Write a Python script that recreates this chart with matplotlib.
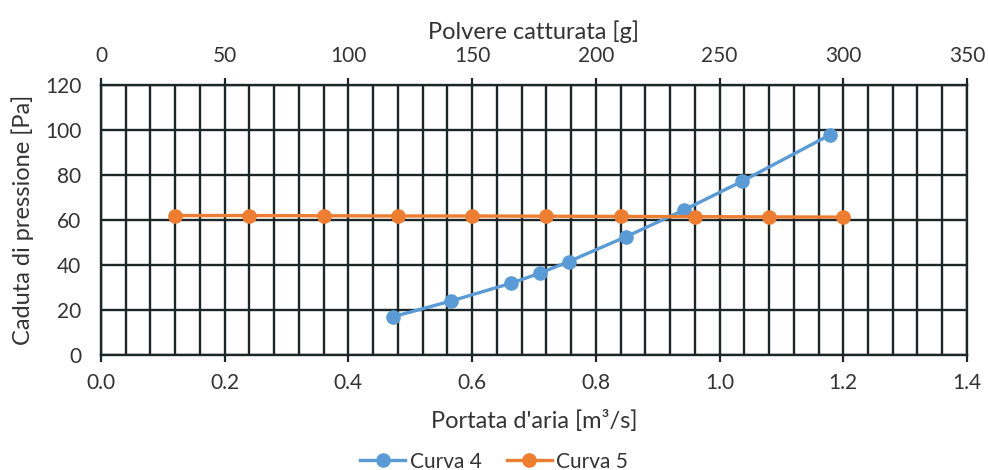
import matplotlib
matplotlib.use('Agg')
import matplotlib.pyplot as plt
import numpy as np
from matplotlib.ticker import MultipleLocator, FormatStrFormatter

# Curva 4: caduta di pressione vs portata d'aria (asse in basso)
portata_c4 = [0.472, 0.566, 0.663, 0.709, 0.756, 0.849, 0.942, 1.037, 1.178]
pressione_c4 = [17.0, 24.0, 31.9, 36.3, 41.5, 52.6, 64.4, 77.3, 97.8]

# Curva 5: caduta di pressione vs polvere catturata (asse in alto)
polvere_c5 = [30, 60, 90, 120, 150, 180, 210, 240, 270, 300]
pressione_c5 = [62.0, 62.0, 61.9, 61.8, 61.8, 61.7, 61.6, 61.5, 61.4, 61.3]

x_ticks = [0.0, 0.2, 0.4, 0.6, 0.8, 1.0, 1.2, 1.4]
top_ticks = [0, 50, 100, 150, 200, 250, 300, 350]
y_ticks = [0, 20, 40, 60, 80, 100, 120]

plt.rcParams['font.family'] = ['Lato', 'DejaVu Sans']
testo = '#333333'
blu = '#5B9BD5'
arancio = '#ED7D31'
griglia = '#1c2626'

fig = plt.figure(figsize=(9.88, 4.70), dpi=100)
ax = fig.add_axes([0.1022, 0.2447, 0.8765, 0.5743])

ax.set_xlim(0, 1.4)
ax.set_ylim(0, 120)
ax.set_xticks(x_ticks)
ax.set_yticks(y_ticks)
ax.xaxis.set_major_formatter(FormatStrFormatter('%.1f'))
ax.xaxis.set_minor_locator(MultipleLocator(0.04))
ax.grid(which='major', axis='both', color=griglia, linewidth=1.7)
ax.grid(which='minor', axis='x', color=griglia, linewidth=1.7)
ax.set_axisbelow(True)
ax.tick_params(axis='x', which='major', direction='out', length=5, width=1.6,
               color=griglia, labelsize=15, labelcolor=testo, pad=8)
ax.tick_params(axis='x', which='minor', length=0)
ax.tick_params(axis='y', length=0, labelsize=15, labelcolor=testo, pad=14)
for s in ax.spines.values():
    s.set_color(griglia)
    s.set_linewidth(1.7)

l4, = ax.plot(portata_c4, pressione_c4, color=blu, linewidth=2.4,
              marker='o', markersize=9.5, label='Curva 4', zorder=3)

ax2 = ax.twiny()
ax2.set_xlim(0, 350)
ax2.set_xticks(top_ticks)
ax2.tick_params(axis='x', direction='out', length=5, width=1.6, color=griglia,
                labelsize=15, labelcolor=testo, pad=9)
for s in ax2.spines.values():
    s.set_visible(False)
l5, = ax2.plot(polvere_c5, pressione_c5, color=arancio, linewidth=2.4,
               marker='o', markersize=9.5, label='Curva 5', zorder=4)

ax.set_xlabel("Portata d'aria [m³/s]", fontsize=17, color=testo, labelpad=12)
ax.set_ylabel('Caduta di pressione [Pa]', fontsize=17, color=testo, labelpad=8)
ax2.set_xlabel('Polvere catturata [g]', fontsize=17, color=testo, labelpad=5)

fig.legend(handles=[l4, l5], loc='center', bbox_to_anchor=(0.5, 0.018),
           ncol=2, frameon=False, fontsize=15, handlelength=2.2,
           columnspacing=1.2, handletextpad=0.2, labelcolor=testo)

fig.savefig('out.png', dpi=100)
